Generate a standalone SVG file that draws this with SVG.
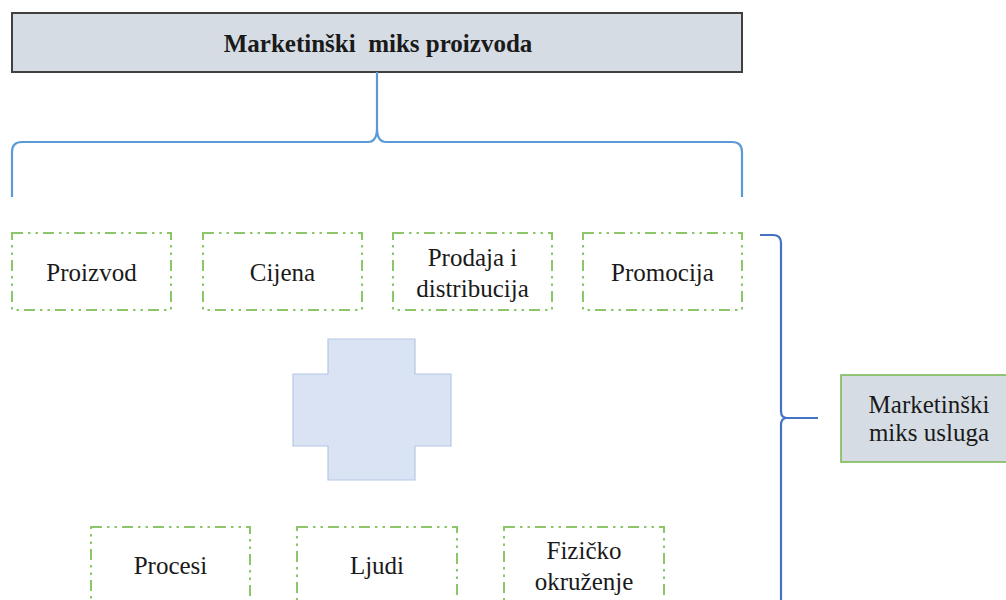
<svg xmlns="http://www.w3.org/2000/svg" width="1006" height="600" viewBox="0 0 1006 600">
<style>
.t{font-family:'Liberation Serif','Times New Roman',serif;font-size:25px;fill:#1a1a1a;text-anchor:middle}
.g{fill:#fff;stroke:#8cc66a;stroke-width:2;stroke-dasharray:11 5 2.5 5 2.5 5}
</style>
<rect width="1006" height="600" fill="#fff"/>
<g id="top">
<rect x="12" y="13" width="730" height="59" fill="#d6dce4" stroke="#404040" stroke-width="2"/>
<text class="t" x="378" y="52" font-weight="bold" font-size="23" style="white-space:pre">Marketinški  miks proizvoda</text>
</g>
<g id="connectors" fill="none">
<path d="M12,197 L12,152 Q12,142 22,142 L368,142 Q377,142 377,128 L377,72 M377,128 Q377,142 386,142 L732,142 Q742,142 742,152 L742,197" stroke="#5b9bd5" stroke-width="2.2"/>
<path d="M760,235 L773,235 Q781,235 781,243 L781,411 Q781,418 787,418 L818,418 M787,418 Q781,418 781,425 L781,600" stroke="#4472c4" stroke-width="2.2"/>
</g>
<g id="proizvod"><rect class="g" x="12" y="233" width="159" height="77"/><text class="t" x="91.5" y="281">Proizvod</text></g>
<g id="cijena"><rect class="g" x="203" y="233" width="159" height="77"/><text class="t" x="282.5" y="281">Cijena</text></g>
<g id="prodaja"><rect class="g" x="393" y="233" width="159" height="77"/><text class="t" x="472.5" y="266">Prodaja i</text><text class="t" x="472.5" y="297">distribucija</text></g>
<g id="promocija"><rect class="g" x="583" y="233" width="159" height="77"/><text class="t" x="662.5" y="281">Promocija</text></g>
<g id="plus"><path d="M328,339 L415,339 L415,374 L451,374 L451,446 L415,446 L415,480 L328,480 L328,446 L293,446 L293,374 L328,374 Z" fill="#dae3f3" stroke="#b4c7e7" stroke-width="1.2"/></g>
<g id="procesi"><rect class="g" x="91" y="527" width="159" height="90"/><text class="t" x="170.5" y="574">Procesi</text></g>
<g id="ljudi"><rect class="g" x="297" y="527" width="160" height="90"/><text class="t" x="377" y="574">Ljudi</text></g>
<g id="fizicko"><rect class="g" x="504" y="527" width="160" height="90"/><text class="t" x="584" y="559">Fizičko</text><text class="t" x="584" y="590">okruženje</text></g>
<g id="usluge"><rect x="841" y="375" width="175" height="87" fill="#d6dce4" stroke="#7dbb58" stroke-width="1.6"/><text class="t" x="929" y="413" font-size="21">Marketinški</text><text class="t" x="929" y="441" font-size="21">miks usluga</text></g>
</svg>
